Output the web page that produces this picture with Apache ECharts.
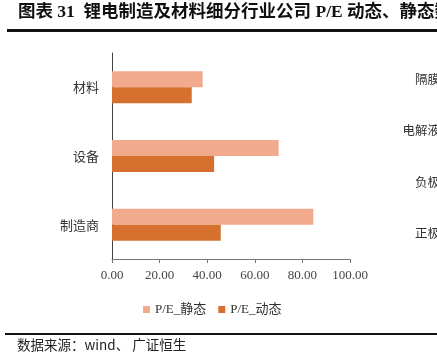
<!DOCTYPE html>
<html>
<head>
<meta charset="utf-8">
<script src="https://cdn.jsdelivr.net/npm/echarts@6/dist/echarts.min.js"></script>
<style>
  html, body { margin: 0; padding: 0; background: #fff; }
  #chart { width: 437px; height: 353px; }
</style>
</head>
<body>
<div id="chart"></div>
<script>
const categories = ["材料", "设备", "制造商"];
const staticPE = [38.1, 70.0, 84.6];
const dynamicPE = [33.5, 42.9, 45.7];
const xTicks = { min: 0, max: 100, interval: 20 };
const sideCategories = ["隔膜", "电解液", "负极", "正极"];

const serif = "'Liberation Serif', 'DejaVu Serif', 'Noto Sans CJK SC', serif";
const cjk = "'Noto Sans CJK SC', serif";

const chart = echarts.init(document.getElementById("chart"));
chart.setOption({
  animation: false,
  graphic: [
    {
      type: "text", left: 18, top: 4,
      style: { text: "图表 31  锂电制造及材料细分行业公司 P/E 动态、静态数据", font: "bold 17.5px " + serif, fill: "#111" },
    },
    { type: "rect", shape: { x: 7, y: 29, width: 440, height: 3 }, style: { fill: "#111" } },
    { type: "rect", shape: { x: 5, y: 333, width: 440, height: 2 }, style: { fill: "#111" } },
    {
      type: "text", left: 17, top: 338,
      style: { text: "数据来源：wind、 广证恒生", font: "13.5px " + cjk, fill: "#222" },
    },
  ],
  legend: {
    data: ["P/E_静态", "P/E_动态"],
    top: 298, left: 138,
    itemWidth: 7, itemHeight: 7, itemGap: 12, icon: "rect",
    textStyle: { fontFamily: serif, fontSize: 13, color: "#333" },
  },
  grid: [
    { left: 112, right: 87, top: 53, bottom: 94 },
    { left: 448, width: 40, top: 53, bottom: 94 },
  ],
  xAxis: [
    {
      type: "value", gridIndex: 0, ...xTicks,
      splitLine: { show: false },
      axisLine: { show: true, lineStyle: { color: "#777" } },
      axisTick: { show: true, length: 4, lineStyle: { color: "#777" } },
      axisLabel: { formatter: (v) => v.toFixed(2), fontFamily: serif, fontSize: 13, color: "#444", margin: 10 },
    },
    { type: "value", gridIndex: 1, show: false },
  ],
  yAxis: [
    {
      type: "category", gridIndex: 0, data: categories, inverse: true,
      axisLine: { lineStyle: { color: "#444" } },
      axisTick: { show: false },
      axisLabel: { fontFamily: cjk, fontSize: 13, color: "#333", margin: 13 },
    },
    {
      type: "category", gridIndex: 1, data: sideCategories, inverse: true,
      axisLine: { show: false }, axisTick: { show: false },
      axisLabel: { fontFamily: cjk, fontSize: 12.5, color: "#333", margin: 8 },
    },
  ],
  series: [
    {
      name: "P/E_静态", type: "bar", data: staticPE,
      barWidth: 16, barGap: "0%",
      itemStyle: { color: "#F2AA8C" },
    },
    {
      name: "P/E_动态", type: "bar", data: dynamicPE,
      barWidth: 16, barGap: "0%",
      itemStyle: { color: "#D5702E" },
    },
  ],
});
</script>
</body>
</html>
